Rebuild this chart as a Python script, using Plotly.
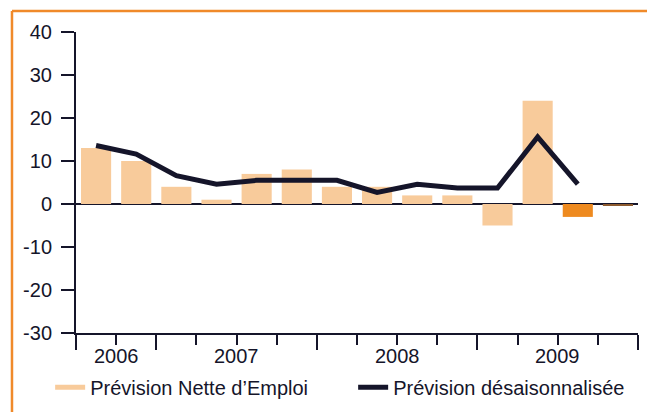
"""Prévision Nette d'Emploi — bar + seasonally adjusted line, recreated in Plotly."""

import plotly.graph_objects as go

# Data -----------------------------------------------------------------------
quarters = [
    "T3 2006", "T4 2006",
    "T1 2007", "T2 2007", "T3 2007", "T4 2007",
    "T1 2008", "T2 2008", "T3 2008", "T4 2008",
    "T1 2009", "T2 2009", "T3 2009", "T4 2009",
]
nette = [13, 10, 4, 1, 7, 8, 4, 4, 2, 2, -5, 24, -3, -0.3]
desaison = [13.6, 11.6, 6.6, 4.6, 5.5, 5.5, 5.5, 2.7, 4.6, 3.7, 3.7, 15.6, 4.6, None]
y_ticks = [-30, -20, -10, 0, 10, 20, 30, 40]
y_ticktext = ["-30", "-20", "-10", "0", "10", "20", "30", "40"]
year_labels = ["2006", "2007", "2008", "2009"]
year_centers = [0.5, 3.5, 7.5, 11.5]
year_bounds = [-0.5, 1.5, 5.5, 9.5, 13.5]

# Styling --------------------------------------------------------------------
_LIGHT = "#F8CB9B"
_ORANGE = "#EE8A1F"
_BROWN = "#8C5A2E"
_INK = "#15152A"
_BORDER = "#F08A2A"
_FONT = "Liberation Sans, Arial, sans-serif"

bar_colors = [_LIGHT] * (len(nette) - 2) + [_ORANGE, _BROWN]
x = list(range(len(quarters)))

fig = go.Figure()

fig.add_trace(
    go.Bar(
        x=x,
        y=nette,
        width=0.75,
        marker={"color": bar_colors, "line": {"width": 0}},
        name="Prévision Nette d’Emploi",
        customdata=quarters,
        hovertemplate="%{customdata}: %{y}<extra></extra>",
        showlegend=False,
    )
)

# Legend stand-in so the bar series shows as a line swatch.
fig.add_trace(
    go.Scatter(
        x=[None], y=[None], mode="lines",
        line={"color": _LIGHT, "width": 5},
        name="Prévision Nette d’Emploi",
    )
)

fig.add_trace(
    go.Scatter(
        x=x,
        y=desaison,
        mode="lines",
        line={"color": _INK, "width": 5},
        name="Prévision désaisonnalisée",
        customdata=quarters,
        hovertemplate="%{customdata}: %{y}<extra></extra>",
    )
)

# Year labels between the long ticks.
for lab, cx in zip(year_labels, year_centers):
    fig.add_annotation(
        x=cx, y=-0.075, xref="x", yref="paper",
        text=lab, showarrow=False, yanchor="middle",
        font={"size": 20, "color": _INK, "family": _FONT},
    )

# Orange frame on the top and left edges of the page.
fig.add_shape(
    type="line", xref="paper", yref="paper",
    x0=-0.1139, x1=1.05, y0=1.0698, y1=1.0698,
    line={"color": _BORDER, "width": 2.5},
)
fig.add_shape(
    type="line", xref="paper", yref="paper",
    x0=-0.1139, x1=-0.1139, y0=1.0698, y1=-0.30,
    line={"color": _BORDER, "width": 2.5},
)

fig.update_layout(
    width=647,
    height=412,
    margin={"l": 76, "r": 9, "t": 32, "b": 79, "autoexpand": False},
    plot_bgcolor="white",
    paper_bgcolor="white",
    font={"family": _FONT, "color": _INK, "size": 20},
    bargap=0.25,
    legend={
        "orientation": "h",
        "x": -0.046, "xanchor": "left",
        "y": -0.18, "yanchor": "middle",
        "font": {"size": 20, "color": _INK},
        "itemwidth": 30,
        "entrywidth": 258,
        "entrywidthmode": "pixels",
        "tracegroupgap": 0,
    },
    xaxis={
        "range": [-0.5, 13.5],
        "automargin": False,
        "showgrid": False,
        "zeroline": False,
        "showline": True,
        "linecolor": _INK,
        "linewidth": 2,
        "tickmode": "array",
        "tickvals": year_bounds,
        "ticktext": [""] * len(year_bounds),
        "ticks": "outside",
        "ticklen": 15,
        "tickwidth": 2,
        "tickcolor": _INK,
        "minor": {
            "tickmode": "linear",
            "tick0": -0.5,
            "dtick": 1,
            "ticks": "outside",
            "ticklen": 10,
            "tickwidth": 2,
            "tickcolor": _INK,
            "showgrid": False,
        },
    },
    yaxis={
        "range": [-30, 40],
        "automargin": False,
        "tickmode": "array",
        "tickvals": y_ticks,
        "ticktext": y_ticktext,
        "showgrid": False,
        "zeroline": True,
        "zerolinecolor": _INK,
        "zerolinewidth": 2,
        "showline": True,
        "linecolor": _INK,
        "linewidth": 2,
        "ticks": "outside",
        "ticklen": 13,
        "tickwidth": 2,
        "tickcolor": _INK,
        "ticklabelstandoff": 5,
        "tickfont": {"size": 20, "color": _INK},
    },
)

# The page body has a default 8px margin; drop it so the figure sits at 0,0.
fig.write_html(
    "out.html",
    config={"displayModeBar": False},
    post_script="document.body.style.margin='0';",
)
